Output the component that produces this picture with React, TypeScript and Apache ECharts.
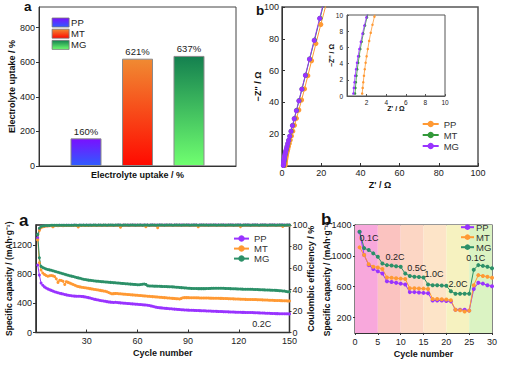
import React, { useEffect, useRef } from 'react';
import * as echarts from 'echarts';

// ---------- Panel a (top): electrolyte uptake ----------
const uptakeCategories = ['PP', 'MT', 'MG'];
const uptakeValues = [160, 621, 637];
const uptakeTicks = [0, 200, 400, 600, 800];

// ---------- Panel b (top): Nyquist plots [Z', -Z''] ----------
const eisPP = [[1.55,0.3],[1.6,1.0],[1.66,1.7],[1.73,2.5],[1.81,3.3],[1.9,4.1],[2.0,4.9],[2.12,5.8],[2.26,6.8],[2.42,7.8],[2.6,8.8],[2.8,9.8],[3.03,10.9],[3.35,12.4],[3.75,14.2],[4.25,16.3],[4.85,18.9],[5.55,21.9],[6.4,25.6],[7.4,30.0],[8.6,35.2],[10.0,41.5],[11.5,48.5],[13.2,56.8],[15.1,66.2],[17.3,77.0],[19.8,89.0],[22.6,102]];
const eisMT = [[0.82,0.3],[0.86,1.0],[0.91,1.7],[0.97,2.5],[1.05,3.3],[1.14,4.1],[1.24,4.9],[1.36,5.8],[1.5,6.7],[1.66,7.7],[1.84,8.7],[2.04,9.7],[2.28,10.8],[2.6,12.3],[2.98,14.1],[3.45,16.2],[4.0,18.8],[4.65,21.9],[5.4,25.5],[6.3,29.8],[7.4,34.9],[8.7,41.1],[10.2,48.4],[12.0,57.1],[14.1,67.3],[16.6,79.2],[19.4,92.9],[22.5,108]];
const eisMG = [[0.65,0.3],[0.7,1.0],[0.76,1.7],[0.83,2.5],[0.92,3.3],[1.02,4.1],[1.13,4.9],[1.26,5.8],[1.41,6.7],[1.58,7.7],[1.77,8.7],[1.98,9.7],[2.22,10.8],[2.52,12.2],[2.9,14.0],[3.35,16.1],[3.9,18.7],[4.55,21.8],[5.3,25.4],[6.2,29.7],[7.3,34.8],[8.6,41.0],[10.1,48.3],[11.9,57.0],[14.0,67.2],[16.4,79.0],[19.2,92.8],[22.3,108]];
const eisTicks = [0, 20, 40, 60, 80, 100];
const eisYTicks = [20, 40, 60, 80, 100];
const insetTicks = [0, 2, 4, 6, 8, 10];
const insetXTicks = [2, 4, 6, 8, 10];

// ---------- Panel a (bottom): cycling at 0.2C ----------
const cycleNumbers = Array.from({ length: 150 }, (_, i) => i + 1);
const capPP = [
  930, 790, 680, 650, 628, 612, 600, 590, 580, 570,
  562, 555, 548, 541, 535, 529, 523, 518, 513, 509,
  505, 503, 501, 500, 500, 499, 497, 494, 490, 486,
  480, 474, 468, 462, 456, 451, 446, 441, 437, 433,
  429, 425, 421, 418, 415, 414, 416, 414, 411, 408,
  406, 404, 402, 400, 398, 396, 394, 392, 390, 388,
  386, 384, 382, 380, 378, 376, 372, 366, 360, 354,
  349, 345, 342, 339, 336, 334, 332, 330, 328, 326,
  324, 322, 320, 318, 316, 314, 312, 310, 309, 308,
  307, 306, 305, 304, 303, 302, 301, 300, 299, 298,
  297, 296, 295, 294, 293, 292, 291, 290, 289, 288,
  287, 286, 285, 284, 283, 282, 281, 280, 279, 278,
  278, 277, 277, 276, 276, 275, 275, 274, 273, 272,
  271, 270, 269, 268, 267, 266, 265, 264, 263, 262,
  261, 260, 260, 259, 259, 258, 258, 257, 257, 256,
];
const capMT = [
  1280, 960, 860, 820, 800, 785, 775, 780, 785, 780,
  770, 740, 690, 720, 715, 705, 660, 700, 690, 680,
  670, 660, 650, 640, 632, 628, 624, 620, 616, 612,
  608, 604, 600, 596, 592, 588, 584, 580, 576, 572,
  568, 560, 550, 540, 532, 535, 538, 536, 534, 532,
  530, 528, 526, 524, 522, 520, 518, 516, 514, 512,
  510, 508, 506, 504, 502, 500, 498, 496, 494, 492,
  490, 488, 486, 484, 482, 480, 478, 476, 474, 472,
  470, 468, 466, 464, 462, 470, 478, 480, 480, 480,
  479, 479, 478, 478, 477, 477, 476, 476, 475, 475,
  474, 474, 473, 473, 472, 472, 471, 471, 470, 470,
  469, 468, 467, 466, 465, 464, 463, 462, 461, 460,
  459, 458, 457, 456, 455, 455, 454, 454, 453, 453,
  452, 451, 450, 449, 448, 447, 446, 445, 444, 443,
  442, 441, 440, 440, 439, 438, 437, 436, 435, 434,
];
const capMG = [
  1350, 1030, 910, 895, 885, 875, 868, 862, 856, 850,
  843, 836, 829, 822, 815, 808, 801, 794, 788, 782,
  776, 770, 764, 758, 752, 746, 740, 734, 729, 725,
  721, 718, 715, 712, 710, 707, 705, 702, 700, 698,
  696, 694, 692, 690, 688, 686, 684, 682, 680, 678,
  676, 674, 672, 670, 668, 666, 664, 662, 660, 658,
  657, 660, 665, 668, 662, 645, 640, 640, 639, 638,
  638, 637, 636, 635, 634, 633, 632, 631, 630, 629,
  628, 626, 624, 622, 620, 618, 616, 614, 612, 610,
  608, 607, 606, 605, 605, 604, 604, 604, 604, 604,
  605, 606, 607, 608, 608, 609, 610, 610, 610, 609,
  608, 607, 606, 605, 604, 603, 602, 601, 600, 599,
  598, 597, 596, 596, 595, 595, 594, 594, 593, 592,
  591, 590, 589, 588, 587, 586, 585, 584, 583, 582,
  581, 580, 578, 576, 574, 572, 570, 565, 562, 560,
];
const cePP = [
  88.0, 96.0, 98.2, 98.8, 99.1, 99.3, 99.4, 99.5, 99.5, 99.6,
  99.6, 99.5, 99.6, 99.7, 99.6, 99.7, 99.6, 99.7, 99.7, 99.6,
  99.7, 99.7, 99.8, 99.7, 99.6, 99.7, 99.8, 99.7, 99.7, 99.8,
  99.7, 99.8, 99.7, 99.8, 99.8, 99.7, 99.8, 99.8, 99.7, 99.8,
  99.8, 99.7, 99.8, 99.8, 99.8, 99.7, 99.8, 99.8, 99.9, 99.8,
  99.8, 99.9, 99.8, 99.8, 99.9, 99.8, 100.0, 99.8, 99.9, 99.8,
  99.8, 99.9, 99.8, 99.9, 99.8, 99.9, 99.8, 99.9, 99.9, 99.8,
  99.9, 99.8, 99.9, 99.9, 99.8, 99.9, 99.9, 99.8, 99.9, 99.9,
  99.8, 99.9, 99.9, 99.8, 99.9, 99.9, 99.9, 99.8, 99.9, 99.9,
  99.9, 99.8, 99.9, 99.9, 99.9, 99.8, 99.9, 99.9, 99.9, 99.8,
  99.9, 99.9, 99.9, 99.8, 99.9, 99.9, 99.9, 99.9, 99.8, 99.9,
  99.9, 99.9, 99.8, 99.9, 99.9, 99.9, 99.9, 99.8, 99.9, 99.9,
  99.9, 99.8, 99.9, 99.9, 99.9, 99.9, 99.8, 99.9, 99.9, 99.9,
  99.9, 99.8, 99.9, 99.9, 99.9, 99.9, 99.8, 99.9, 99.9, 99.9,
  99.9, 99.9, 99.8, 99.9, 99.9, 99.9, 99.9, 99.8, 99.9, 99.9,
];
const ceMT = [
  86.0, 95.0, 97.5, 98.3, 98.7, 99.0, 99.2, 99.3, 99.4, 98.3,
  99.4, 99.5, 99.4, 99.5, 99.5, 99.4, 99.5, 99.6, 99.5, 99.5,
  99.6, 99.5, 99.6, 99.6, 98.2, 99.6, 99.6, 99.5, 99.6, 99.6,
  99.6, 99.7, 99.6, 99.6, 99.7, 99.6, 99.7, 99.6, 99.7, 99.7,
  99.6, 99.7, 99.7, 99.6, 99.7, 99.7, 99.6, 99.7, 99.7, 98.0,
  99.7, 99.7, 99.8, 99.7, 99.7, 99.8, 99.7, 99.7, 99.8, 99.7,
  99.7, 99.8, 99.7, 99.8, 98.4, 99.7, 99.8, 99.8, 99.7, 99.8,
  99.8, 97.5, 99.8, 99.7, 99.8, 99.8, 99.7, 99.8, 99.8, 99.7,
  99.8, 99.8, 99.7, 99.8, 99.8, 99.8, 99.7, 99.8, 99.8, 99.7,
  99.8, 99.8, 99.8, 99.7, 99.8, 98.3, 99.8, 99.8, 99.7, 99.8,
  99.8, 99.8, 99.7, 99.8, 99.8, 99.8, 99.8, 99.7, 99.8, 99.8,
  99.8, 99.7, 99.8, 99.8, 99.8, 99.7, 99.8, 99.8, 99.8, 99.8,
  98.5, 99.8, 99.8, 99.7, 99.8, 99.8, 99.8, 99.8, 99.7, 99.8,
  99.8, 99.8, 99.8, 99.7, 99.8, 99.8, 99.8, 99.8, 99.7, 99.8,
  99.8, 99.8, 99.8, 99.7, 99.8, 98.6, 99.8, 99.8, 99.8, 99.8,
];
const ceMG = [
  91.0, 97.0, 98.6, 99.1, 99.3, 99.5, 99.6, 99.6, 99.7, 99.7,
  99.7, 99.8, 99.7, 99.8, 99.8, 99.7, 99.8, 99.8, 99.8, 99.7,
  99.8, 99.8, 99.9, 99.8, 99.8, 99.9, 99.8, 100.0, 99.8, 99.9,
  99.8, 99.9, 99.8, 99.9, 99.9, 99.8, 99.9, 99.9, 99.8, 99.9,
  99.9, 99.8, 99.9, 99.9, 99.9, 99.8, 99.9, 100.0, 99.9, 99.9,
  99.8, 99.9, 99.9, 99.9, 99.8, 99.9, 99.9, 99.9, 99.8, 99.9,
  99.9, 99.9, 99.8, 99.9, 99.9, 99.9, 99.8, 99.9, 99.9, 99.9,
  99.8, 99.9, 99.9, 99.9, 99.9, 99.8, 99.9, 99.9, 99.9, 99.9,
  99.8, 99.9, 99.9, 99.9, 99.9, 99.8, 99.9, 99.9, 99.9, 99.9,
  99.8, 99.9, 99.9, 99.9, 99.9, 99.8, 99.9, 99.9, 99.9, 99.9,
  99.9, 99.8, 99.9, 99.9, 99.9, 99.9, 99.8, 99.9, 99.9, 99.9,
  99.9, 99.8, 99.9, 99.9, 99.9, 99.9, 99.8, 99.9, 99.9, 99.9,
  99.9, 99.8, 99.9, 99.9, 99.9, 99.9, 99.8, 99.9, 99.9, 99.9,
  99.9, 99.8, 99.9, 99.9, 99.9, 99.9, 99.8, 99.9, 99.9, 99.9,
  99.9, 99.8, 99.9, 99.9, 99.9, 99.9, 99.8, 99.9, 99.9, 99.9,
];
const capTicks = [0, 400, 800, 1200];
const cycleTicks = [30, 60, 90, 120, 150];

// ---------- Panel b (bottom): rate capability ----------
const rateCycles = Array.from({ length: 30 }, (_, i) => i + 1);
const ratePP = [1310, 1010, 880, 830, 800, 770, 670, 660, 650, 640, 630, 530, 530, 525, 520, 515, 420, 420, 420, 415, 410, 300, 300, 300, 290, 570, 650, 640, 620, 605];
const rateMT = [1110, 1010, 890, 860, 850, 830, 720, 715, 710, 705, 700, 580, 580, 578, 575, 570, 440, 440, 438, 435, 425, 300, 295, 280, 290, 620, 750, 740, 730, 715];
const rateMG = [1313, 1100, 1075, 1032, 988, 900, 880, 875, 865, 858, 770, 740, 730, 725, 720, 630, 620, 620, 615, 612, 540, 510, 510, 510, 510, 820, 880, 870, 860, 840];
const rateBandEdges = [0, 5, 10, 15, 20, 25, 30];
const rateLabels = ['0.1C', '0.2C', '0.5C', '1.0C', '2.0C', '0.1C'];
const rateTicks = [200, 600, 1000, 1400];

// ---------- styles ----------
const FONT = 'Liberation Sans, Arial, Helvetica, sans-serif';
const C_PURPLE = '#9933FF';
const C_ORANGE = '#FF9933';
const C_TEAL = '#2C9068';
const C_GREEN = '#33993A';
const bandColors = ['#F8A8DC', '#FBC3C0', '#FCD6C4', '#FDE4C8', '#F6F2C0', '#DBF3C3'];
const barGradients = [
  ['#7A10FF', '#2F5CFF'],
  ['#F08A32', '#FF0A00'],
  ['#14804F', '#70FF70'],
];
const rateLabelPos = [[369, 238], [395, 256.7], [416.7, 268], [434, 274], [458, 284], [475.7, 258]];

const plain = (v: number) => String(v);

const axisCommon = (extra: any) => ({
  splitLine: { show: false },
  axisLine: { show: true, onZero: false, lineStyle: { color: '#333', width: 1 } },
  nameTextStyle: { color: '#111', fontSize: 9, fontWeight: 'bold', fontFamily: FONT },
  nameLocation: 'middle',
  nameMoveOverlap: false,
  ...extra,
  axisLabel: { color: '#222', fontSize: 9, fontFamily: FONT, formatter: plain, hideOverlap: false, ...(extra.axisLabel || {}) },
});

export default function App() {
  const ref = useRef<HTMLDivElement>(null);
  useEffect(() => {
    document.body.style.margin = '0';
    if (!ref.current) return;
    const chart = echarts.init(ref.current, undefined, { renderer: 'svg' });
    const grad = (i: number) =>
      new echarts.graphic.LinearGradient(0, 0, 0, 1, [
        { offset: 0, color: barGradients[i][0] },
        { offset: 1, color: barGradients[i][1] },
      ]);
    const nm = (n: string) => n.split('#')[0];

    const barSeries = uptakeCategories.map((c, i) => ({
      type: 'bar',
      name: c + '#bar',
      xAxisIndex: 0,
      yAxisIndex: 0,
      data: [[i + 1, uptakeValues[i]]],
      barWidth: 31,
      barGap: '-100%',
      itemStyle: { color: grad(i), borderColor: '#8a8a8a', borderWidth: 1 },
      label: {
        show: true,
        position: 'top',
        distance: 2,
        fontSize: 9.5,
        color: '#222',
        fontFamily: FONT,
        formatter: (p: any) => p.value[1] + '%',
      },
    }));

    const eisSets = [
      ['PP', eisPP, C_ORANGE],
      ['MT', eisMT, C_GREEN],
      ['MG', eisMG, C_PURPLE],
    ] as const;
    const eisSeries = eisSets.map(([n, d, col]) => ({
      type: 'line',
      name: n + '#eis',
      xAxisIndex: 1,
      yAxisIndex: 1,
      data: d,
      symbol: 'circle',
      symbolSize: 5,
      lineStyle: { width: 1, color: col },
      itemStyle: { color: col },
    }));
    const insetSeries = eisSets.map(([n, d, col]) => ({
      type: 'line',
      name: n + '#inset',
      xAxisIndex: 2,
      yAxisIndex: 2,
      data: d,
      symbol: 'circle',
      symbolSize: 2.5,
      lineStyle: { width: 0.8, color: col },
      itemStyle: { color: col },
    }));

    const cycSets = [
      ['PP', capPP, cePP, C_PURPLE],
      ['MT', capMT, ceMT, C_ORANGE],
      ['MG', capMG, ceMG, C_TEAL],
    ] as const;
    const capSeries = cycSets.map(([n, cap, , col]) => ({
      type: 'line',
      name: n + '#cyc',
      xAxisIndex: 3,
      yAxisIndex: 3,
      data: cycleNumbers.map((c, i) => [c, cap[i]]),
      symbol: 'circle',
      symbolSize: 3,
      lineStyle: { width: 1, color: col },
      itemStyle: { color: col },
    }));
    const ceSeries = cycSets.map(([n, , ce, col]) => ({
      type: 'line',
      name: n + '#ce',
      xAxisIndex: 3,
      yAxisIndex: 4,
      data: cycleNumbers.map((c, i) => [c, ce[i]]),
      symbol: 'circle',
      symbolSize: 3,
      lineStyle: { width: 1, color: col },
      itemStyle: { color: col },
    }));

    const rateSets = [
      ['PP', ratePP, C_PURPLE],
      ['MT', rateMT, C_ORANGE],
      ['MG', rateMG, C_TEAL],
    ] as const;
    const rateSeries = rateSets.map(([n, d, col], k) => ({
      type: 'line',
      name: n + '#rate',
      xAxisIndex: 4,
      yAxisIndex: 5,
      data: rateCycles.map((c, i) => [c, d[i]]),
      symbol: 'circle',
      symbolSize: 4,
      lineStyle: { width: 1, color: col },
      itemStyle: { color: col },
      markArea:
        k === 0
          ? {
              silent: true,
              data: rateBandEdges.slice(0, -1).map((e, i) => [
                { xAxis: e, itemStyle: { color: bandColors[i] } },
                { xAxis: rateBandEdges[i + 1] },
              ]),
            }
          : undefined,
    }));

    const legendCommon = {
      orient: 'vertical',
      selectedMode: false,
      padding: 0,
      formatter: nm,
    };

    const option: any = {
      animation: false,
      backgroundColor: '#fff',
      textStyle: { fontFamily: FONT },
      grid: [
        { left: 39, top: 7, width: 197, height: 159, show: true, borderColor: '#444', borderWidth: 1, backgroundColor: 'transparent', outerBoundsMode: 'none' },
        { left: 282, top: 7, width: 196, height: 159, show: true, borderColor: '#555', borderWidth: 1.5, backgroundColor: 'transparent', outerBoundsMode: 'none' },
        { left: 347, top: 15, width: 98, height: 81, show: true, borderColor: '#555', borderWidth: 1, backgroundColor: '#fff', outerBoundsMode: 'none' },
        { left: 36, top: 225, width: 253.5, height: 107.5, show: true, borderColor: '#222', borderWidth: 1.5, backgroundColor: 'transparent', outerBoundsMode: 'none' },
        { left: 355, top: 225, width: 137, height: 108, show: true, borderColor: '#333', borderWidth: 1.2, backgroundColor: 'transparent', outerBoundsMode: 'none' },
      ],
      xAxis: [
        axisCommon({
          gridIndex: 0, type: 'value', min: 0.087, max: 3.913,
          axisLabel: { show: false }, axisTick: { show: false },
          name: 'Electrolyte uptake / %', nameGap: 4,
        }),
        axisCommon({
          gridIndex: 1, type: 'value', min: 0, max: 100, interval: 20,
          axisTick: { inside: true, length: 3, customValues: eisTicks },
          axisLabel: { margin: 2, customValues: eisTicks },
          name: "Z' / Ω", nameGap: 14.5,
        }),
        axisCommon({
          gridIndex: 2, type: 'value', min: 0, max: 10, interval: 2,
          axisLine: { show: true, onZero: false, lineStyle: { color: '#555', width: 1 } },
          axisTick: { inside: true, length: 2, customValues: insetTicks },
          axisLabel: { fontSize: 6.5, margin: 2.5, customValues: insetXTicks },
          name: "Z' / Ω", nameGap: 8.5,
          nameTextStyle: { color: '#111', fontSize: 7, fontWeight: 'bold', fontFamily: FONT },
        }),
        axisCommon({
          gridIndex: 3, type: 'value', min: 0, max: 150, interval: 30,
          axisTick: { inside: true, length: 3, customValues: cycleTicks },
          axisLabel: { margin: 3.5, customValues: cycleTicks },
          name: 'Cycle number', nameGap: 16,
        }),
        axisCommon({
          gridIndex: 4, type: 'value', min: 0, max: 30, interval: 5,
          axisTick: { inside: false, length: 2 },
          axisLabel: { margin: 4.5 },
          name: 'Cycle number', nameGap: 16,
        }),
      ],
      yAxis: [
        axisCommon({
          gridIndex: 0, type: 'value', min: 0, max: 920,
          axisTick: { inside: false, length: 3, customValues: uptakeTicks },
          axisLabel: { margin: 4, customValues: uptakeTicks },
          name: 'Electrolyte uptake / %', nameGap: 23,
        }),
        axisCommon({
          gridIndex: 1, type: 'value', min: 0, max: 100, interval: 20,
          axisTick: { inside: true, length: 3, customValues: eisYTicks },
          axisLabel: { margin: 3, customValues: eisYTicks },
          name: "−Z'' / Ω", nameGap: 19.5,
        }),
        axisCommon({
          gridIndex: 2, type: 'value', min: 0, max: 10, interval: 2,
          axisLine: { show: true, onZero: false, lineStyle: { color: '#555', width: 1 } },
          axisTick: { inside: true, length: 2, customValues: insetTicks },
          axisLabel: { fontSize: 6.5, margin: 4, customValues: insetTicks },
          name: "−Z'' / Ω", nameGap: 12,
          nameTextStyle: { color: '#111', fontSize: 7, fontWeight: 'bold', fontFamily: FONT },
        }),
        axisCommon({
          gridIndex: 3, type: 'value', min: 0, max: 1480,
          axisTick: { inside: false, length: 3, customValues: capTicks },
          axisLabel: { margin: 4, customValues: capTicks },
          name: 'Specific capacity / (mAh·g⁻¹)', nameGap: 22.5,
          nameTextStyle: { color: '#111', fontSize: 8.5, fontWeight: 'bold', fontFamily: FONT },
        }),
        axisCommon({
          gridIndex: 3, type: 'value', position: 'right', min: 0, max: 100, interval: 20,
          axisTick: { inside: false, length: 2 },
          axisLabel: { margin: 3 },
          name: 'Coulombic efficiency / %', nameGap: 16.5,
        }),
        axisCommon({
          gridIndex: 4, type: 'value', min: 0, max: 1400,
          axisTick: { inside: false, length: 2, customValues: rateTicks },
          axisLabel: { margin: 3.5, customValues: rateTicks },
          name: 'Specific capacity / (mAh·g⁻¹)', nameGap: 23.5,
          nameTextStyle: { color: '#111', fontSize: 8.5, fontWeight: 'bold', fontFamily: FONT },
        }),
      ],
      legend: [
        {
          ...legendCommon,
          data: uptakeCategories.map((c) => c + '#bar'),
          left: 51.7, top: 17.5, itemWidth: 17, itemHeight: 9, itemGap: 1.2, icon: 'rect',
          itemStyle: { borderColor: '#777', borderWidth: 0.8 },
          textStyle: { fontSize: 9.5, color: '#222', fontFamily: FONT, lineHeight: 9, padding: [0, 0, 0, -3] },
        },
        {
          ...legendCommon,
          data: eisSets.map(([n]) => n + '#eis'),
          left: 421.7, top: 118.5, itemWidth: 16, itemHeight: 8, itemGap: 0,
          textStyle: { fontSize: 9.5, color: '#333', fontFamily: FONT, lineHeight: 11 },
        },
        {
          ...legendCommon,
          data: cycSets.map(([n]) => n + '#cyc'),
          left: 233, top: 233.6, itemWidth: 15, itemHeight: 8, itemGap: 0,
          textStyle: { fontSize: 9.5, color: '#333', fontFamily: FONT, lineHeight: 9.5 },
        },
        {
          ...legendCommon,
          data: rateSets.map(([n]) => n + '#rate'),
          left: 460, top: 222.2, itemWidth: 13, itemHeight: 7, itemGap: 0,
          textStyle: { fontSize: 9.5, color: '#333', fontFamily: FONT, lineHeight: 9.2, padding: [0, 0, 0, -3] },
        },
      ],
      graphic: [
        { type: 'text', x: 24, y: 6.2, style: { text: 'a', fontSize: 13.5, fontWeight: 'bold', fontFamily: FONT, fill: '#111', verticalAlign: 'middle' } },
        { type: 'text', x: 256, y: 10, style: { text: 'b', fontSize: 13.5, fontWeight: 'bold', fontFamily: FONT, fill: '#111', verticalAlign: 'middle' } },
        { type: 'text', x: 19, y: 220.4, style: { text: 'a', fontSize: 17, fontWeight: 'bold', fontFamily: FONT, fill: '#111', verticalAlign: 'middle' } },
        { type: 'text', x: 321, y: 219, style: { text: 'b', fontSize: 17, fontWeight: 'bold', fontFamily: FONT, fill: '#111', verticalAlign: 'middle' } },
        { type: 'text', x: 261.7, y: 324.3, style: { text: '0.2C', fontSize: 9, fontFamily: FONT, fill: '#222', align: 'center', verticalAlign: 'middle' } },
        ...rateLabels.map((t, i) => ({
          type: 'text', x: rateLabelPos[i][0], y: rateLabelPos[i][1], z: 10,
          style: { text: t, fontSize: 9, fontFamily: FONT, fill: '#222', align: 'center', verticalAlign: 'middle' },
        })),
      ],
      series: [...barSeries, ...eisSeries, ...insetSeries, ...capSeries, ...ceSeries, ...rateSeries],
    };
    chart.setOption(option);
    return () => chart.dispose();
  }, []);
  return <div ref={ref} style={{ width: 512, height: 369 }} />;
}
